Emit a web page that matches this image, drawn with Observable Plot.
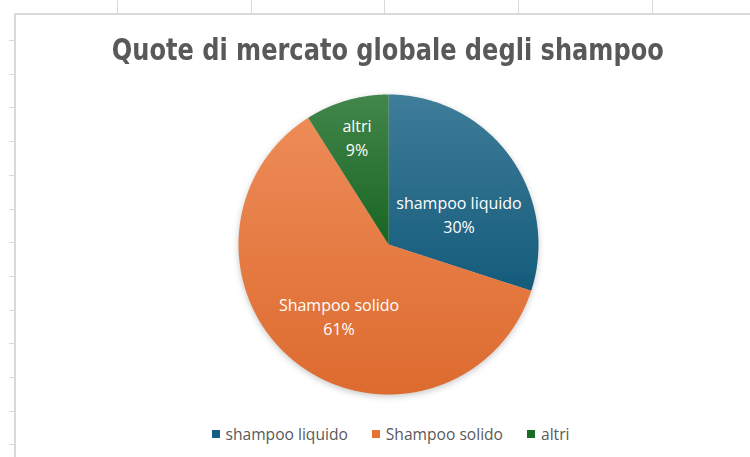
<!DOCTYPE html>
<html>
<head>
<meta charset="utf-8">
<script src="https://cdn.jsdelivr.net/npm/d3@7"></script>
<script src="https://cdn.jsdelivr.net/npm/@observablehq/plot@0.6"></script>
<style>
html, body { margin: 0; padding: 0; background: #fff; }
#wrap { position: relative; width: 750px; height: 457px; overflow: hidden; background: #fff; }
.grid { position: absolute; background: #d9d9d9; }
#title { position: absolute; left: 0; width: 776px; top: 29px; text-align: center; line-height: 40px; }
#titleText { display: inline-block; font-family: "DejaVu Sans", sans-serif; font-weight: bold;
  font-size: 30px; color: #595959; white-space: nowrap; transform-origin: 50% 50%; }
#plot { position: absolute; left: 0; top: 0; }
#legend { position: absolute; left: 0; width: 781px; top: 424px; display: flex; justify-content: center;
  font-family: "Open Sans", sans-serif; font-size: 15.6px; color: #595959; line-height: 20px; }
.item { display: flex; align-items: center; margin: 0 12px; }
.sw { width: 8px; height: 8px; margin-right: 6px; }
#measure { position: absolute; visibility: hidden; white-space: nowrap; font-family: "Open Sans", sans-serif; }
</style>
</head>
<body>
<div id="wrap">
  <div id="title"><span id="titleText"></span></div>
  <div id="plot"></div>
  <div id="legend"></div>
  <span id="measure"></span>
</div>
<script>
// ---- data ----
const chartTitle = "Quote di mercato globale degli shampoo";
const categories = ["shampoo liquido", "Shampoo solido", "altri"];
const shares = [30, 61, 9];
const percentLabels = ["30%", "61%", "9%"];
const colors = ["#156082", "#E97132", "#196B24"];

// ---- background spreadsheet frame ----
const wrap = document.getElementById("wrap");
function addGrid(l, t, w, h) {
  const d = document.createElement("div");
  d.className = "grid";
  Object.assign(d.style, {left: l + "px", top: t + "px", width: w + "px", height: h + "px"});
  wrap.insertBefore(d, wrap.firstChild);
}
addGrid(14, 13, 2, 444);
addGrid(14, 13, 736, 2);
for (let k = 0; k < 13; k++) addGrid(9, Math.round(40 + k * 33.7), 6, 1);
for (let k = 0; k < 5; k++) addGrid(Math.round(117 + k * 133.7), 0, 1, 13);

// ---- title: condensed to the reference width ----
const tt = document.getElementById("titleText");
tt.textContent = chartTitle;
{
  const w0 = tt.getBoundingClientRect().width;
  tt.style.transform = `scaleX(${(552 / w0).toFixed(4)})`;
  const fs = 30;
  const base = (40 - 1.164 * fs) / 2 + 0.928 * fs;
  document.getElementById("title").style.top = (60.5 - base).toFixed(1) + "px";
}

// ---- pie geometry from data ----
const R = 150;               // pixel radius (from layout margins below)
const labelFont = 16, labelLH = 1.5;
const total = d3.sum(shares);
let acc = 0;
const slices = categories.map((c, i) => {
  const a0 = acc / total * 2 * Math.PI;
  acc += shares[i];
  const a1 = acc / total * 2 * Math.PI;
  return {c, i, a0, a1, mid: (a0 + a1) / 2};
});
const pts = slices.flatMap(s => {
  const n = Math.max(2, Math.ceil((s.a1 - s.a0) / 0.005));
  const arr = [{c: s.c, x: 0, y: 0}];
  for (let k = 0; k <= n; k++) {
    const a = s.a0 + (s.a1 - s.a0) * k / n;
    arr.push({c: s.c, x: Math.sin(a), y: Math.cos(a)});
  }
  arr.push({c: s.c, x: 0, y: 0});
  return arr;
});

// label placement ("best fit"): inside the slice, keeping a clearance from its edges,
// as close as possible to the mid-angle point
const meas = document.getElementById("measure");
meas.style.fontSize = labelFont + "px";
const textWidth = t => { meas.textContent = t; return meas.getBoundingClientRect().width; };
const TAU = 2 * Math.PI;
function angleOf(x, y) { let a = Math.atan2(x, y); if (a < 0) a += TAU; return a; }
function rayDist(x, y, a) {
  const t = x * Math.sin(a) + y * Math.cos(a);
  return t < 0 ? Math.hypot(x, y) : Math.abs(x * Math.cos(a) - y * Math.sin(a));
}
const labels = slices.map(s => {
  const lines = [s.c, percentLabels[s.i]];
  const hw = d3.max(lines, textWidth) / 2 / R;
  const hh = ((lines.length - 1) * labelFont * labelLH + 0.75 * labelFont) / 2 / R;
  const tx = 0.75 * Math.sin(s.mid), ty = 0.75 * Math.cos(s.mid);
  const probe = [];
  for (const a of [-1, -0.5, 0, 0.5, 1]) for (const b of [-1, 0, 1]) probe.push([a * hw, b * hh]);
  const clearance = (cx, cy) => {
    let m = Infinity;
    for (const [dx, dy] of probe) {
      const x = cx + dx, y = cy + dy;
      const a = angleOf(x, y);
      if (a < s.a0 || a > s.a1) return -1;
      m = Math.min(m, 1 - Math.hypot(x, y), rayDist(x, y, s.a0), rayDist(x, y, s.a1));
      if (m < 0) return -1;
    }
    return m;
  };
  const cand = [];
  let maxC = 0;
  for (let i = -100; i <= 100; i++) for (let j = -100; j <= 100; j++) {
    const cx = i / 100, cy = j / 100;
    const c = clearance(cx, cy);
    if (c > 0) { cand.push([cx, cy, c]); if (c > maxC) maxC = c; }
  }
  const T = Math.min(0.06, 0.9 * maxC);
  let best = null, bd = Infinity;
  for (const [cx, cy, c] of cand) {
    if (c < T) continue;
    const d = Math.hypot(cx - tx, cy - ty);
    if (d < bd) { bd = d; best = [cx, cy]; }
  }
  if (!best) best = [0.6 * Math.sin(s.mid), 0.6 * Math.cos(s.mid)];
  return {text: lines.join("\n"), x: best[0], y: best[1]};
});

const plot = Plot.plot({
  width: 750, height: 457,
  marginLeft: 238, marginRight: 212, marginTop: 94, marginBottom: 63,
  x: {domain: [-1, 1], axis: null},
  y: {domain: [-1, 1], axis: null},
  color: {domain: categories, range: colors},
  style: {background: "transparent", overflow: "visible"},
  marks: [
    Plot.line(pts, {x: "x", y: "y", z: "c", fill: "c", stroke: "none", className: "pie"}),
    Plot.text(labels, {x: "x", y: "y", text: "text", fill: "#ffffff", fontSize: labelFont, lineHeight: labelLH,
      fontFamily: "Open Sans, sans-serif"})
  ]
});

// gradients (Excel style shading)
const ns = "http://www.w3.org/2000/svg";
const defs = document.createElementNS(ns, "defs");
colors.forEach((col, i) => {
  const g = document.createElementNS(ns, "linearGradient");
  g.setAttribute("id", "grad" + i);
  g.setAttribute("x1", "0"); g.setAttribute("y1", "0");
  g.setAttribute("x2", "0"); g.setAttribute("y2", "1");
  const top = d3.interpolateRgb(col, "#ffffff")(0.18);
  const bot = d3.color(col).darker(0.15).formatHex();
  [[0, top], [1, bot]].forEach(([o, c]) => {
    const st = document.createElementNS(ns, "stop");
    st.setAttribute("offset", o);
    st.setAttribute("stop-color", c);
    g.appendChild(st);
  });
  defs.appendChild(g);
});
plot.insertBefore(defs, plot.firstChild);
const pieG = plot.querySelector("g.pie");
if (pieG) {
  pieG.style.filter = "drop-shadow(0px 2px 3px rgba(0,0,0,0.22))";
  pieG.querySelectorAll("path").forEach(p => {
    const f = (p.getAttribute("fill") || "").toLowerCase();
    const idx = colors.findIndex(c => c.toLowerCase() === f);
    if (idx >= 0) p.setAttribute("fill", `url(#grad${idx})`);
  });
}
document.getElementById("plot").appendChild(plot);

// legend
const legend = document.getElementById("legend");
categories.forEach((c, i) => {
  const it = document.createElement("div");
  it.className = "item";
  const sw = document.createElement("div");
  sw.className = "sw";
  sw.style.background = colors[i];
  const t = document.createElement("span");
  t.textContent = c;
  it.appendChild(sw); it.appendChild(t);
  legend.appendChild(it);
});
</script>
</body>
</html>
